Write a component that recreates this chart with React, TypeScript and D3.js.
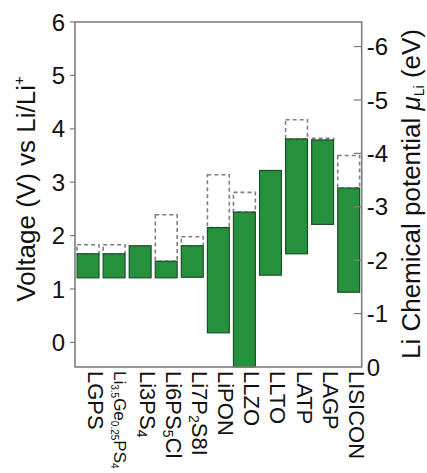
import React from "react";
import * as d3 from "d3";

// ---- data ----
const categories = ["LGPS", "Li3.5Ge0.25PS4", "Li3PS4", "Li6PS5Cl", "Li7P2S8I", "LiPON", "LLZO", "LLTO", "LATP", "LAGP", "LISICON"];
// label pieces: [text, isSubscript]
const labelParts: [string, boolean][][] = [
  [["LGPS", false]],
  [["Li", false], ["3.5", true], ["Ge", false], ["0.25", true], ["PS", false], ["4", true]],
  [["Li3PS", false], ["4", true]],
  [["Li6PS", false], ["5", true], ["Cl", false]],
  [["Li7P", false], ["2", true], ["S8I", false]],
  [["LiPON", false]],
  [["LLZO", false]],
  [["LLTO", false]],
  [["LATP", false]],
  [["LAGP", false]],
  [["LISICON", false]],
];
const reductionV = [1.21, 1.21, 1.21, 1.21, 1.22, 0.18, -0.46, 1.26, 1.66, 2.21, 0.94];
const oxidationV = [1.66, 1.66, 1.81, 1.52, 1.81, 2.15, 2.44, 3.22, 3.81, 3.79, 2.89];
const dashedTopV: (number | null)[] = [1.83, 1.83, null, 2.39, 1.98, 3.14, 2.81, null, 4.17, 3.82, 3.5];
const leftTicks = [0, 1, 2, 3, 4, 5, 6];
const rightTicks = [0, -1, -2, -3, -4, -5, -6];

const W = 427;
const H = 473;
const FONT = "Liberation Sans, Arial, Helvetica, sans-serif";

export default function App() {
  const left = 75, right = 361.7, top = 22, bottom = 367;
  const x = d3.scaleBand<string>().domain(categories).range([left, right]).paddingInner(0.16).paddingOuter(0.08);
  const y = d3.scaleLinear().domain([-0.46, 6]).range([bottom, top]);
  const perV = (bottom - top) / 6.46;
  const yMu = d3.scaleLinear().domain([0, -6]).range([bottom, bottom - 6 * perV]);
  const frame = "#7d7d7d";

  return (
    <svg width={W} height={H} style={{ position: "absolute", left: 0, top: 0, background: "#fff" }} fontFamily={FONT}>
      <rect x={0} y={0} width={W} height={H} fill="#fff" />
      {/* dashed boxes */}
      {categories.map((c, i) => {
        const t = dashedTopV[i];
        if (t == null) return null;
        const x0 = x(c)!;
        return (
          <rect key={"d" + c} x={x0} y={y(t)} width={x.bandwidth()} height={y(oxidationV[i]) - y(t)}
            fill="none" stroke="#808080" strokeWidth={1.6} strokeDasharray="4 3" />
        );
      })}
      {/* bars */}
      {categories.map((c, i) => (
        <rect key={"b" + c} x={x(c)!} y={y(oxidationV[i])} width={x.bandwidth()}
          height={y(reductionV[i]) - y(oxidationV[i])} fill="#25913c" stroke="#1d4f29" strokeWidth={1.2} />
      ))}
      {/* frame */}
      <rect x={left} y={top} width={right - left} height={bottom - top} fill="none" stroke={frame} strokeWidth={1.6} />
      {/* left axis */}
      {leftTicks.map((t) => (
        <g key={"l" + t}>
          <line x1={left - 5} x2={left} y1={y(t)} y2={y(t)} stroke={frame} strokeWidth={1.2} />
          <text x={left - 10} y={y(t)} dy="0.36em" textAnchor="end" fontSize={24} fill="#111">{t}</text>
        </g>
      ))}
      {/* right axis */}
      {rightTicks.map((t) => (
        <g key={"r" + t}>
          {t !== 0 && <line x1={right - 8} x2={right} y1={yMu(t)} y2={yMu(t)} stroke={frame} strokeWidth={1.2} />}
          <text x={right + 5} y={yMu(t)} dy="0.36em" textAnchor="start" fontSize={24} fill="#111">{t}</text>
        </g>
      ))}
      {/* x labels */}
      {categories.map((c, i) => {
        const cx = x(c)! + x.bandwidth() / 2;
        const small = i === 1;
        const fs = small ? 17 : 22;
        return (
          <text key={"x" + c} transform={`translate(${cx},${bottom + 4}) rotate(90)`} dy="0.35em"
            fontSize={fs} fill="#111" textAnchor="start">
            {labelParts[i].map(([s, sub], k) => (
              <tspan key={k} fontSize={sub ? (small ? 10 : 14) : fs} dy={sub ? 3 : (k > 0 && labelParts[i][k - 1][1] ? -3 : 0)}>{s}</tspan>
            ))}
          </text>
        );
      })}
      {/* left title */}
      <text transform={`translate(35,189) rotate(-90)`} textAnchor="middle" fontSize={26} fill="#111">
        Voltage (V) vs Li/Li<tspan fontSize={15} dy={-11}>+</tspan>
      </text>
      {/* right title */}
      <text transform={`translate(420,194) rotate(-90)`} textAnchor="middle" fontSize={26} fill="#111">
        Li Chemical potential <tspan fontStyle="italic">μ</tspan><tspan fontSize={14} dy={4}>Li</tspan><tspan dy={-4}> (eV)</tspan>
      </text>
    </svg>
  );
}
